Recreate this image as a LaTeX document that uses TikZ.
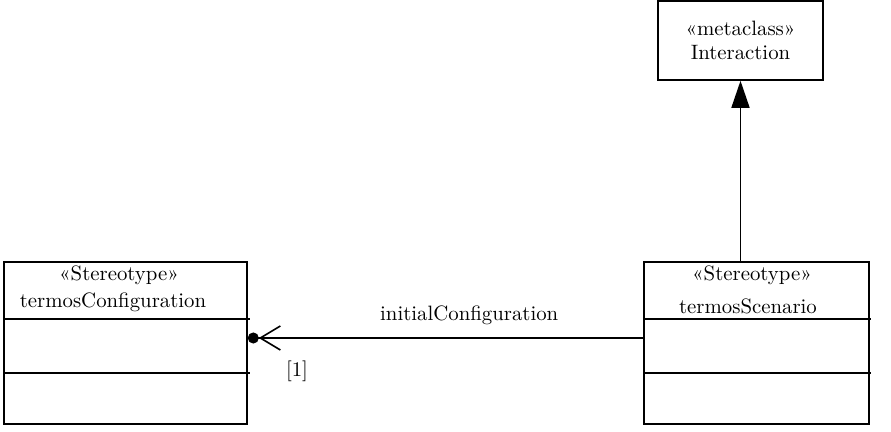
\documentclass[tikz,border=0pt]{standalone}
\usepackage{tikz}
\usetikzlibrary{arrows.meta,positioning,calc}

\begin{document}
\begin{tikzpicture}[x=0.5pt, y=-0.5pt, line width=0.8pt,
  font=\fontsize{10.4}{12}\selectfont,
  cls/.style={draw, rectangle, inner sep=0pt, align=center},
  t/.style={inner sep=1pt, align=center},
  gen/.style={-{Triangle[length=13.5pt,width=9pt]}},
  assoc/.style={-{Straight Barb[length=10pt,width=12pt]Circle[length=5.5pt]}}]
  \useasboundingbox (0,0) rectangle (891,432);
  % metaclass
  \node[cls, minimum width=82.5pt, minimum height=39.5pt] (inter) at (740.5,40.5) {«metaclass»\\Interaction};
  % stereotypes
  \node[cls, minimum width=121.5pt, minimum height=81pt] (cfg) at (125.5,343) {};
  \node[cls, minimum width=112.5pt, minimum height=81pt] (scn) at (756.5,343) {};
  \node[t] (cfgst) at (119,275) {«Stereotype»};
  \node[t] (cfgnm) at (113,302) {termosConfiguration};
  \node[t] (scnst) at (752,275) {«Stereotype»};
  \node[t] (scnnm) at (748,306) {termosScenario};
  % compartments
  \draw (4,319) -- (250,319);
  \draw (4,373) -- (250,373);
  \draw (644,319) -- (871,319);
  \draw (644,373) -- (871,373);
  % connectors
  \draw[gen] (scn.north -| inter.south) -- (inter.south);
  \coordinate (cfgend) at (cfg.east |- 0,338);
  \draw[assoc] (scn.west |- cfgend) -- node[t, above=5pt, pos=0.44] (lbl) {initialConfiguration} (cfgend);
  \node[t] (mult) at (297,371) {[1]};
\end{tikzpicture}
\end{document}
